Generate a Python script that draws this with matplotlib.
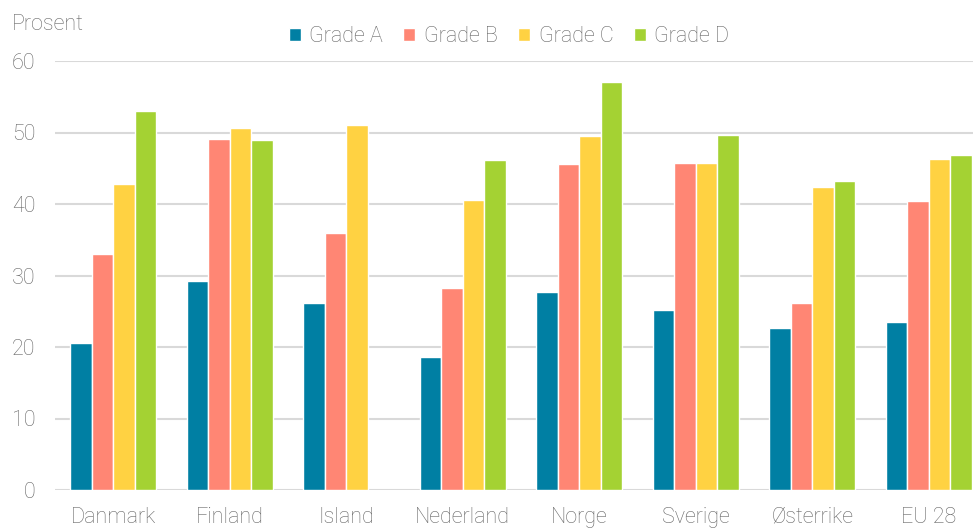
import numpy as np
import matplotlib.pyplot as plt

plt.rcParams['font.family'] = ['Roboto', 'DejaVu Sans']
plt.rcParams['font.weight'] = 'light'

countries = ['Danmark', 'Finland', 'Island', 'Nederland', 'Norge', 'Sverige', 'Østerrike', 'EU 28']
grades = ['Grade A', 'Grade B', 'Grade C', 'Grade D']
grade_a = [20.6, 29.2, 26.2, 18.6, 27.7, 25.2, 22.7, 23.5]
grade_b = [33.0, 49.1, 35.9, 28.3, 45.6, 45.7, 26.2, 40.4]
grade_c = [42.8, 50.6, 51.0, 40.6, 49.5, 45.7, 42.4, 46.3]
grade_d = [53.0, 49.0, np.nan, 46.2, 57.1, 49.7, 43.2, 46.9]
colors = ['#007fa3', '#ff8674', '#ffd242', '#a4d233']

txt = '#666666'
fig = plt.figure(figsize=(9.73, 5.29), dpi=100)
ax = fig.add_axes([55/973, 39/529, 918/973, 429/529])

x = np.arange(len(countries))
w = 0.184
series = [grade_a, grade_b, grade_c, grade_d]
for i, (vals, c, g) in enumerate(zip(series, colors, grades)):
    ax.bar(x + (i - 1.5) * w, vals, w, color=c, label=g,
           edgecolor='white', linewidth=1, zorder=3)

ax.set_xlim(-0.5, 7.38)
ax.set_ylim(0, 60)
ax.set_yticks(range(0, 61, 10))
ax.set_xticks(x)
ax.set_xticklabels(countries)
ax.grid(axis='y', color='#d9d9d9', linewidth=1.5, zorder=0)
for s in ax.spines.values():
    s.set_visible(False)
ax.tick_params(axis='both', length=0, labelsize=15.5, labelcolor=txt)
ax.tick_params(axis='y', pad=14)
ax.tick_params(axis='x', pad=12)

fig.text(12/973, 1 - 24/529, 'Prosent', fontsize=15.5, color=txt, va='center')
fig.legend(loc='center', bbox_to_anchor=(509/973, 1 - 37/529), ncol=4, frameon=False,
           fontsize=15.5, labelcolor=txt, handlelength=0.55, handleheight=0.55,
           handletextpad=0.4, columnspacing=0.95)

fig.savefig('out.png', dpi=100)
